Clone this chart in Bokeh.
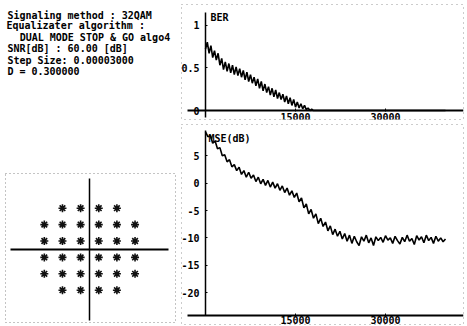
from bokeh.plotting import figure
from bokeh.models import Range1d, LinearAxis, FixedTicker, Label, ColumnDataSource
from bokeh.layouts import row, column
from bokeh.embed import file_html
from bokeh.resources import INLINE
from bokeh.core.properties import value

FONT = "DejaVu Sans Mono"

# ---------------- data ----------------
info_lines = [
    "Signaling method : 32QAM",
    "Equalizater algorithm :",
    "DUAL MODE STOP & GO algo4",
    "SNR[dB] : 60.00 [dB]",
    "Step Size: 0.00003000",
    "D = 0.300000",
]

# 32-QAM cross constellation (I, Q)
qam_i = [-3, -1, 1, 3,
         -5, -3, -1, 1, 3, 5,
         -5, -3, -1, 1, 3, 5,
         -5, -3, -1, 1, 3, 5,
         -5, -3, -1, 1, 3, 5,
         -3, -1, 1, 3]
qam_q = [5, 5, 5, 5,
         3, 3, 3, 3, 3, 3,
         1, 1, 1, 1, 1, 1,
         -1, -1, -1, -1, -1, -1,
         -3, -3, -3, -3, -3, -3,
         -5, -5, -5, -5]

# BER vs iteration
ber_n = [0, 300, 600, 900, 1200, 1500, 1800, 2100, 2400, 2700, 3000, 3300, 3600, 3900,
         4200, 4500, 4800, 5100, 5400, 5700, 6000, 6300, 6600, 6900, 7200, 7500, 7800,
         8100, 8400, 8700, 9000, 9300, 9600, 9900, 10200, 10500, 10800, 11100, 11400,
         11700, 12000, 12300, 12600, 12900, 13200, 13500, 13800, 14100, 14400, 14700,
         15000, 15300, 15600, 15900, 16200, 16500, 16800, 17100, 17400, 17700, 18000, 40000]
ber = [0.72, 0.80, 0.67, 0.76, 0.62, 0.70, 0.59, 0.67, 0.53, 0.61, 0.48, 0.57, 0.46, 0.55,
       0.44, 0.53, 0.42, 0.51, 0.41, 0.49, 0.39, 0.47, 0.36, 0.45, 0.34, 0.42, 0.32,
       0.39, 0.29, 0.37, 0.26, 0.34, 0.23, 0.31, 0.21, 0.28, 0.18, 0.26, 0.16,
       0.24, 0.14, 0.21, 0.13, 0.19, 0.10, 0.17, 0.08, 0.15, 0.06, 0.13,
       0.04, 0.10, 0.03, 0.08, 0.02, 0.06, 0.01, 0.03, 0.0, 0.015, 0.0, 0.0]

# MSE (dB) vs iteration, every 400 samples from 0 to 40000
mse_step = 400
mse_db = [9.4, 8.5, 8.7, 7.3, 7.7, 6.3, 6.5, 5.0, 5.2, 3.9, 4.3, 3.0, 3.4, 2.3, 2.9,
          1.6, 2.3, 1.1, 2.0, 0.9, 1.5, 0.3, 1.1, -0.1, 0.7, -0.4, 0.5, -0.7, 0.2, -0.9,
          -0.1, -1.3, -0.5, -1.7, -0.9, -2.2, -1.4, -2.6, -1.8, -3.4, -2.7, -4.5, -3.8,
          -5.6, -4.8, -6.4, -5.6, -7.4, -6.4, -7.9, -7.1, -8.7, -7.8, -9.4, -8.4, -9.7,
          -8.8, -10.2, -9.2, -10.6, -9.5,
          -11.0, -9.7, -10.7, -11.4, -9.8, -10.6, -9.5, -10.9, -10.0, -11.4, -9.8, -10.5,
          -9.9, -10.8, -9.6, -10.4, -10.0, -11.0, -9.7, -10.5, -11.1, -9.9, -10.7, -9.5,
          -10.6, -10.1, -11.2, -9.6, -10.4, -9.8, -10.9, -9.5, -10.5, -9.9, -11.0, -9.7,
          -10.6, -10.0, -10.7, -10.2]
mse_n = [i * mse_step for i in range(len(mse_db))]

ber_ticks = [0, 0.5, 1]
mse_ticks = [5, 0, -5, -10, -15, -20]
x_ticks = [15000, 30000]


def make_axis(loc, bounds, ticks, overrides, lw, tick_in, tick_out, standoff):
    ax = LinearAxis(fixed_location=loc, bounds=bounds,
                    ticker=FixedTicker(ticks=ticks, minor_ticks=[]))
    ax.axis_line_color = "black"
    ax.axis_line_width = lw
    ax.major_tick_line_color = "black"
    ax.major_tick_in = tick_in
    ax.major_tick_out = tick_out
    ax.minor_tick_line_color = None
    ax.major_label_standoff = standoff
    ax.major_label_overrides = overrides
    ax.major_label_text_font = FONT
    ax.major_label_text_font_style = "bold"
    ax.major_label_text_font_size = "10px"
    ax.major_label_text_color = "black"
    return ax


# ---------------- text panel ----------------
tp = figure(width=180, height=168, x_range=Range1d(0, 180), y_range=Range1d(168, 0),
            x_axis_type=None, y_axis_type=None, toolbar_location=None,
            output_backend="svg", min_border=0, outline_line_color=None)
tp.grid.visible = False
line_y = [15, 25, 37, 48.3, 60, 70.5]
line_x = [2, 1, 15, 2, 2, 2]
tp.text(x=line_x, y=line_y, text=info_lines, text_font=value(FONT),
        text_font_style="bold", text_font_size="10px", text_baseline="middle",
        text_align="left", text_color="black")

# ---------------- constellation ----------------
cp = figure(width=180, height=158, x_range=Range1d(-9.28, 9.46), y_range=Range1d(-8.94, 9.23),
            x_axis_type=None, y_axis_type=None, toolbar_location=None,
            output_backend="svg", min_border_left=5, min_border_right=5,
            min_border_top=5, min_border_bottom=4,
            outline_line_color="#888888", outline_line_dash="1 3", outline_line_width=1)
cp.grid.visible = False
cx = make_axis(0, (-8.73, 8.69), [], {}, 2, 0, 0, 0)
cx.major_label_text_font_size = "0px"
cy = make_axis(0, (-8.7, 8.62), [], {}, 1.5, 0, 0, 0)
cy.major_label_text_font_size = "0px"
cp.add_layout(cx, "below")
cp.add_layout(cy, "left")
csrc = ColumnDataSource(dict(i=qam_i, q=qam_q))
cp.scatter("i", "q", source=csrc, marker="asterisk", size=8, line_width=1.6, line_color="#111111")
cp.scatter("i", "q", source=csrc, marker="square", size=2.5, fill_color="#111111", line_color=None)

# ---------------- BER ----------------
bp = figure(width=287, height=124, x_range=Range1d(-4000, 43000), y_range=Range1d(-0.105, 1.241),
            x_axis_type=None, y_axis_type=None, toolbar_location=None,
            output_backend="svg", min_border_left=1, min_border_right=4,
            min_border_top=4, min_border_bottom=5,
            outline_line_color="#999999", outline_line_dash="1 4", outline_line_width=1)
bp.grid.visible = False
bx = make_axis(0, (-3000, 43000), x_ticks, {15000: "15000", 30000: "30000"}, 2, 2, 1, 1)
by = make_axis(0, (-0.078, 1.151), ber_ticks, {0: "0", 0.5: "0.5", 1: "1"}, 1.5, 2, 0, 6)
bp.add_layout(bx, "below")
bp.add_layout(by, "left")
bp.line(ber_n, ber, line_color="black", line_width=1.6)
bp.add_layout(Label(x=833, y=1.089, text="BER", text_font=FONT, text_font_style="bold",
                    text_font_size="10px", text_baseline="middle", text_color="black"))

# ---------------- MSE ----------------
mp = figure(width=287, height=202, x_range=Range1d(-4000, 43000), y_range=Range1d(-25.83, 10.73),
            x_axis_type=None, y_axis_type=None, toolbar_location=None,
            output_backend="svg", min_border_left=1, min_border_right=4,
            min_border_top=0, min_border_bottom=2,
            outline_line_color="#999999", outline_line_dash="1 4", outline_line_width=1)
mp.grid.visible = False
mx = make_axis(-24.2, (-3000, 43000), x_ticks, {15000: "15000", 30000: "30000"}, 2, 2, 0, 0)
my = make_axis(0, (-24.2, 9.63), mse_ticks,
               {5: "5", 0: "0", -5: "-5", -10: "-10", -15: "-15", -20: "-20"}, 1.5, 2, 0, 6)
mp.add_layout(mx, "below")
mp.add_layout(my, "left")
mp.line(mse_n, mse_db, line_color="black", line_width=1.6)
mp.add_layout(Label(x=500, y=8.23, text="MSE(dB)", text_font=FONT, text_font_style="bold",
                    text_font_size="10px", text_baseline="middle", text_color="black"))

p = row(column(tp, cp), column(bp, mp))
open("out.html", "w").write(file_html(p, INLINE))
